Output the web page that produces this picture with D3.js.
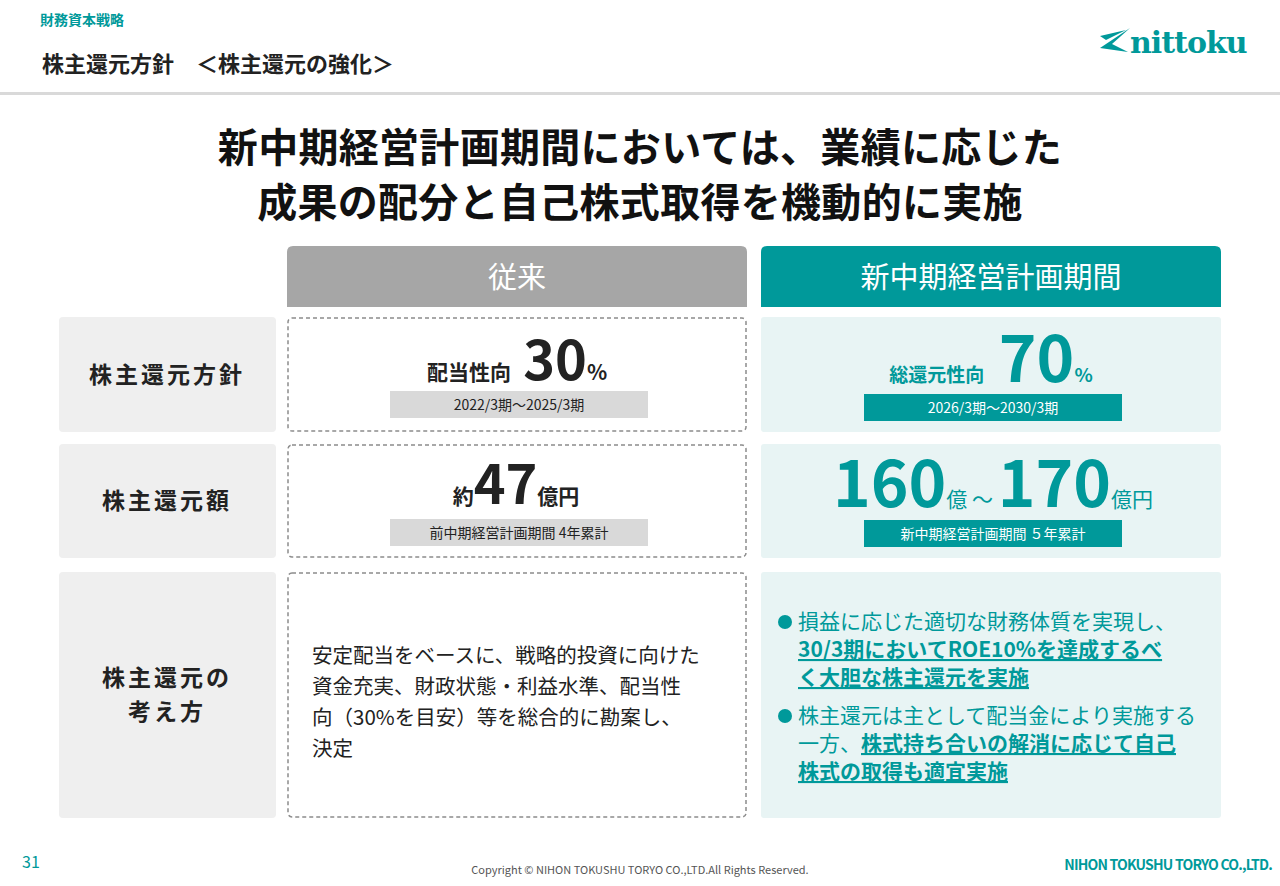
<!DOCTYPE html>
<html><head><meta charset="utf-8">
<script src="https://cdn.jsdelivr.net/npm/d3@7"></script>
<style>body{margin:0;background:#fff}svg{display:block;font-family:"Noto Sans CJK JP","Noto Sans",sans-serif}</style>
</head><body><svg id="c" width="1280" height="886"></svg>
<script>
const columns = ["従来", "新中期経営計画期間"];
const rowLabels = [["株主還元方針"], ["株主還元額"], ["株主還元の", "考え方"]];
const payoutOld = {label: "配当性向", value: "30", unit: "%", period: "2022/3期～2025/3期"};
const payoutNew = {label: "総還元性向", value: "70", unit: "%", period: "2026/3期～2030/3期"};
const amountOld = {pre: "約", value: "47", unit: "億円", note: "前中期経営計画期間 4年累計"};
const amountNew = {low: "160", high: "170", note: "新中期経営計画期間 ５年累計"};
const policyOld = ["安定配当をベースに、戦略的投資に向けた", "資金充実、財政状態・利益水準、配当性", "向（30%を目安）等を総合的に勘案し、", "決定"];
const policyNew = [
  [[["損益に応じた適切な財務体質を実現し、", 0]], [["30/3期においてROE10%を達成するべ", 1]], [["く大胆な株主還元を実施", 1]]],
  [[["株主還元は主として配当金により実施する", 0]], [["一方、", 0], ["株式持ち合いの解消に応じて自己", 1]], [["株式の取得も適宜実施", 1]]]
];
const titleLines = ["新中期経営計画期間においては、業績に応じた", "成果の配分と自己株式取得を機動的に実施"];

const T = "#00999a", svg = d3.select("#c");
const txt = (x, y, s, o = {}) => svg.append("text").attr("x", x).attr("y", y).text(s)
  .attr("font-size", o.fs || 16).attr("font-weight", o.fw || 400).attr("fill", o.fill || "#222")
  .attr("text-anchor", o.a || "start");

txt(40, 25, "財務資本戦略", {fs: 14, fw: 700, fill: T});
txt(42, 72, "株主還元方針　＜株主還元の強化＞", {fs: 22, fw: 700});
svg.append("rect").attr("x", 0).attr("y", 92).attr("width", 1280).attr("height", 3).attr("fill", "#d9d9d9");
svg.append("path").attr("d", "M1100 48 L1130 28 L1112 44 L1128 52 Z M1100 36 L1126 30 L1106 40 Z").attr("fill", T);
txt(1130, 53, "nittoku", {fs: 30, fw: 700, fill: T}).attr("font-family", "DejaVu Serif").attr("letter-spacing", -1);
titleLines.forEach((l, i) => txt(640, 162 + i * 55, l, {fs: 40, fw: 700, a: "middle", fill: "#111"}).attr("letter-spacing", 0.3));

const x = d3.scaleOrdinal().domain(columns).range([287, 761]);
const colW = 460;
const rowY = [317, 444, 572], rowH = [115, 114, 246];
columns.forEach((c, i) => {
  svg.append("path").attr("d", `M${x(c)} 307 V252 Q${x(c)} 246 ${x(c) + 6} 246 H${x(c) + colW - 6} Q${x(c) + colW} 246 ${x(c) + colW} 252 V307 Z`)
    .attr("fill", i ? T : "#a6a6a6");
  txt(x(c) + colW / 2, 288, c, {fs: 29, fill: "#fff", a: "middle"});
});
rowLabels.forEach((r, i) => {
  svg.append("rect").attr("x", 59).attr("y", rowY[i]).attr("width", 217).attr("height", rowH[i]).attr("rx", 4).attr("fill", "#efefef");
  r.forEach((l, j) => txt(167, rowY[i] + rowH[i] / 2 + 8 + (j - (r.length - 1) / 2) * 34, l, {fs: 23, fw: 700, a: "middle"}).attr("letter-spacing", 3));
  svg.append("rect").attr("x", 288).attr("y", rowY[i] + 1).attr("width", colW - 2).attr("height", rowH[i] - 2).attr("rx", 4)
    .attr("fill", "none").attr("stroke", "#8c8c8c").attr("stroke-width", 1.5).attr("stroke-dasharray", "4,3");
  svg.append("rect").attr("x", 761).attr("y", rowY[i]).attr("width", colW).attr("height", rowH[i]).attr("rx", 3).attr("fill", "#e8f4f4");
});
function sub(cx, y, s, dark) {
  svg.append("rect").attr("x", cx - 129).attr("y", y).attr("width", 258).attr("height", 27).attr("fill", dark ? T : "#d9d9d9");
  txt(cx, y + 19, s, {fs: 14, a: "middle", fill: dark ? "#fff" : "#222"});
}
let t = txt(517, 380, "", {a: "middle"});
t.append("tspan").text(payoutOld.label).attr("font-size", 21).attr("font-weight", 700);
t.append("tspan").text(" " + payoutOld.value).attr("font-size", 54).attr("font-weight", 700);
t.append("tspan").text(payoutOld.unit).attr("font-size", 21).attr("font-weight", 700);
sub(519, 391, payoutOld.period, false);
t = txt(991, 382, "", {a: "middle", fill: T});
t.append("tspan").text(payoutNew.label).attr("font-size", 19).attr("font-weight", 700);
t.append("tspan").text(" " + payoutNew.value).attr("font-size", 64).attr("font-weight", 700);
t.append("tspan").text(payoutNew.unit).attr("font-size", 19).attr("font-weight", 700);
sub(993, 394, payoutNew.period, true);
t = txt(516, 504, "", {a: "middle"});
t.append("tspan").text(amountOld.pre).attr("font-size", 21).attr("font-weight", 700);
t.append("tspan").text(amountOld.value).attr("font-size", 54).attr("font-weight", 700);
t.append("tspan").text(amountOld.unit).attr("font-size", 21).attr("font-weight", 700);
sub(519, 519, amountOld.note, false);
t = txt(993, 507, "", {a: "middle", fill: T});
t.append("tspan").text(amountNew.low).attr("font-size", 64).attr("font-weight", 700);
t.append("tspan").text("億 ～ ").attr("font-size", 21);
t.append("tspan").text(amountNew.high).attr("font-size", 64).attr("font-weight", 700);
t.append("tspan").text("億円").attr("font-size", 21);
sub(993, 520, amountNew.note, true);
policyOld.forEach((l, i) => txt(312, 663 + i * 31, l, {fs: 20.5}));
let ly = 629;
policyNew.forEach((b) => {
  svg.append("circle").attr("cx", 785).attr("cy", ly - 7).attr("r", 7).attr("fill", T);
  b.forEach((line) => {
    const tt = txt(798, ly, "", {fs: 21, fill: T});
    line.forEach(([s, bold]) => { const sp = tt.append("tspan").text(s);
      if (bold) sp.attr("font-weight", 700).attr("text-decoration", "underline"); });
    ly += 28;
  });
  ly += 10;
});
txt(22, 868, "31", {fs: 16, fill: T});
txt(640, 874, "Copyright © NIHON TOKUSHU TORYO CO.,LTD.All Rights Reserved.", {fs: 11, a: "middle", fill: "#555"});
txt(1272, 870, "NIHON TOKUSHU TORYO CO.,LTD.", {fs: 14, fw: 700, a: "end", fill: T}).attr("letter-spacing", -0.8);
</script></body></html>
